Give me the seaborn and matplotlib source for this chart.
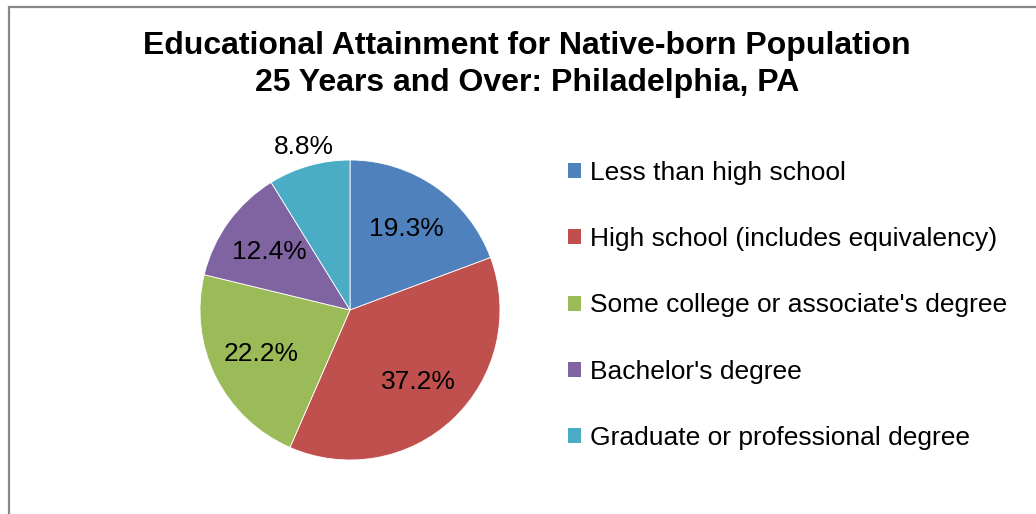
import matplotlib
matplotlib.use("Agg")
import matplotlib.pyplot as plt
from matplotlib.patches import Patch, Rectangle
import seaborn as sns

categories = [
    "Less than high school",
    "High school (includes equivalency)",
    "Some college or associate's degree",
    "Bachelor's degree",
    "Graduate or professional degree",
]
shares = [19.3, 37.2, 22.2, 12.4, 8.8]
colors = ["#4F81BD", "#C0504D", "#9BBB59", "#8064A2", "#4BACC6"]
title = "Educational Attainment for Native-born Population\n25 Years and Over: Philadelphia, PA"

sns.set_theme(style="white")
plt.rcParams["font.family"] = ["Liberation Sans", "DejaVu Sans"]
plt.rcParams["text.color"] = "black"

W, H = 1036, 514
fig = plt.figure(figsize=(W / 100, H / 100), dpi=100)
fig.patch.set_facecolor("white")

# chart area border (left and top edges visible)
fig.add_artist(Rectangle((8.5 / W, -0.1), 1.2, 1.1 - 7.5 / H, transform=fig.transFigure,
                         fill=False, edgecolor="#888888", linewidth=1.6))

fig.text(527 / W, 1 - 64.5 / H, title, ha="center", va="center", fontsize=23,
         fontweight="bold", linespacing=1.3, color="black")

ax = fig.add_axes([200 / W, (H - 460) / H, 300 / W, 300 / H])
wedges, texts, autotexts = ax.pie(
    shares, colors=colors, startangle=90, counterclock=False,
    autopct=lambda p: f"{p:.1f}%", pctdistance=0.66,
    wedgeprops=dict(edgecolor="white", linewidth=0.6),
    textprops=dict(fontsize=19, color="black"),
)
# the smallest slice's label sits outside the pie
autotexts[-1].set_position(tuple(1.13 / 0.66 * c for c in autotexts[-1].get_position()))
for t, s in zip(autotexts, shares):
    t.set_text(f"{s:.1f}%")
ax.set_xlim(-1, 1)
ax.set_ylim(-1, 1)
ax.set_aspect("equal")

handles = [Patch(facecolor=c, edgecolor="none") for c in colors]
fig.legend(handles, categories, loc="upper left", bbox_to_anchor=(568 / W, 1 - 161 / H),
           frameon=False, fontsize=19, handlelength=0.5, handleheight=0.5,
           handletextpad=0.35, labelspacing=1.6, borderaxespad=0, borderpad=0)

fig.savefig("out.png", dpi=100, facecolor="white")
